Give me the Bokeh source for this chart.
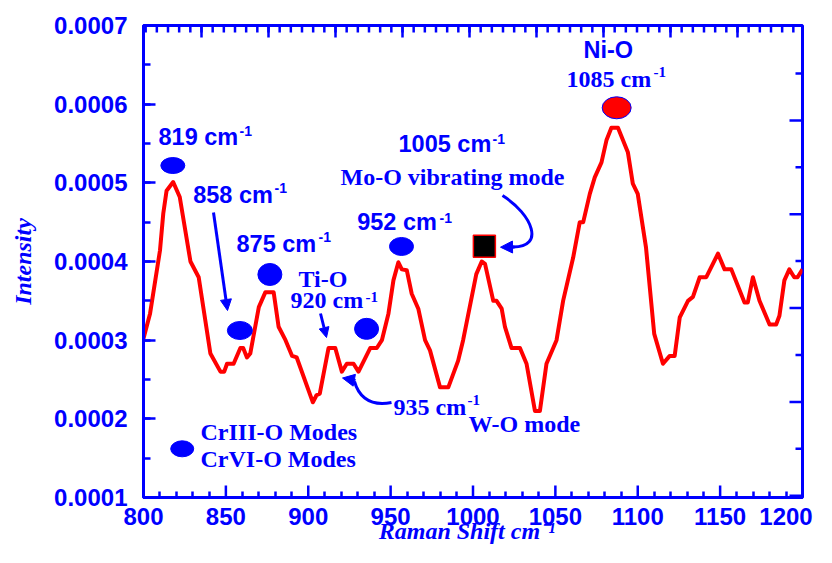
import numpy as np
from bokeh.plotting import figure
from bokeh.models import (Range1d, SingleIntervalTicker, FixedTicker,
                          PrintfTickFormatter, Label, Arrow, NormalHead)
from bokeh.embed import file_html
from bokeh.resources import INLINE

# ---------------- data ----------------
raman_shift = [800, 804, 810, 812, 814, 818, 822, 828.5, 833.5, 840.6, 846.7, 849, 850.7, 854.7,
               858.8, 860.5, 862.8, 864.8, 870, 874, 879, 882, 886.2, 890.2, 893, 902.8, 905, 907,
               912.3, 916.4, 920.4, 923.4, 927.5, 930.5, 937.6, 941.6, 944.7, 948.7, 951.7, 954.7,
               956.8, 959.8, 962.8, 966.8, 970.9, 973.9, 980, 985, 991, 994, 998, 1002, 1005.3,
               1007.3, 1012.3, 1014.3, 1017.4, 1019.4, 1023.4, 1028.5, 1032.5, 1037.6, 1040.6,
               1044.6, 1050.7, 1054.7, 1060.8, 1064.8, 1066.9, 1070.9, 1073.9, 1078, 1081, 1084,
               1088, 1094, 1097, 1100, 1105, 1110, 1115.3, 1119.4, 1122.4, 1125.5, 1130.5, 1133.5,
               1137.6, 1141.6, 1148.7, 1152.7, 1156.8, 1164.8, 1166.8, 1169.9, 1173.9, 1180, 1184,
               1186, 1189, 1192, 1195, 1197, 1200]
intensity = [0.000302, 0.000334, 0.000414, 0.000461, 0.00049, 0.000501, 0.000482, 0.0004, 0.00038,
             0.000283, 0.00026, 0.00026, 0.00027, 0.00027, 0.00029, 0.00029, 0.000278, 0.000283,
             0.000342, 0.000361, 0.000361, 0.000317, 0.0003, 0.00028, 0.000278, 0.000221, 0.00023,
             0.000232, 0.00029, 0.00029, 0.00026, 0.00027, 0.00027, 0.00026, 0.00029, 0.00029,
             0.0003, 0.000334, 0.000376, 0.000399, 0.00039, 0.000389, 0.000359, 0.00034, 0.0003,
             0.000287, 0.00024, 0.00024, 0.000274, 0.0003, 0.000342, 0.000384, 0.0004, 0.000397,
             0.00035, 0.00035, 0.00034, 0.000317, 0.00029, 0.00029, 0.00027, 0.00021, 0.00021,
             0.00027, 0.0003, 0.00035, 0.000405, 0.00045, 0.00045, 0.000486, 0.000507, 0.000526,
             0.000554, 0.00057, 0.00057, 0.000539, 0.000499, 0.000486, 0.000418, 0.000308, 0.00027,
             0.00028, 0.00028, 0.000329, 0.00035, 0.000355, 0.00038, 0.00038, 0.00041, 0.00039,
             0.00039, 0.000348, 0.000348, 0.00038, 0.00035, 0.00032, 0.00032, 0.000331, 0.000376,
             0.00039, 0.00038, 0.00038, 0.00039]

# peak markers
blue_mark_shift = [817.8, 858.5, 876.7, 935.4, 956.6, 823.5]
blue_mark_intensity = [0.000522, 0.0003123, 0.0003835, 0.0003144, 0.0004191, 0.0001619]
nio_mark_shift = [1087.2]
nio_mark_intensity = [0.0005954]
moo_mark_shift = [1006.9]
moo_mark_intensity = [0.0004193]

x_start, x_end, x_step = 800, 1200, 50
y_start, y_end, y_step = 0.0001, 0.0007, 0.0001
x_title = "Raman  Shift  cm\u207b\u00b9"
y_title = "Intensity"

BLUE = "#0000FF"
RED = "#FF0000"
SANS = "Liberation Sans"
SERIF = "Liberation Serif"

# pixel helpers (plot frame: x 143..802, y 25..497)
FL, FR, FT, FB = 143, 802, 25, 497
def X(px):
    return x_start + (px - FL) * (x_end - x_start) / (FR - FL)

def Y(py):
    return y_end - (py - FT) * (y_end - y_start) / (FB - FT)

DX = (x_end - x_start) / (FR - FL)   # data units per pixel
DY = (y_end - y_start) / (FB - FT)

W, H = 816, 547
p = figure(width=W, height=H, output_backend="svg", toolbar_location=None,
           x_range=Range1d(x_start, x_end), y_range=Range1d(y_start, y_end),
           min_border_left=FL, min_border_right=W - FR, min_border_top=FT, min_border_bottom=H - FB)
p.outline_line_color = BLUE
p.outline_line_width = 3
p.grid.visible = False
p.background_fill_color = "white"
p.border_fill_color = "white"

def style_axis(ax, major_in, minor_in):
    ax.axis_line_color = BLUE
    ax.axis_line_width = 3
    ax.major_tick_line_color = BLUE
    ax.minor_tick_line_color = BLUE
    ax.major_tick_line_width = 2.5
    ax.minor_tick_line_width = 2.5
    ax.major_tick_in = major_in
    ax.major_tick_out = 0
    ax.minor_tick_in = minor_in
    ax.minor_tick_out = 0
    ax.major_label_text_color = BLUE
    ax.major_label_text_font = SANS
    ax.major_label_text_font_style = "bold"
    ax.major_label_text_font_size = "24px"

n_x = int(round((x_end - x_start) / x_step))
major_x = [x_start + i * x_step for i in range(n_x + 1)]
minor_x = [x_start + i * x_step / 5 for i in range(1, 5 * n_x) if i % 5 != 0]
# the label of the last tick is moved slightly inwards so that it stays on the canvas
last_label_pos = 1190
xa = p.xaxis[0]
xa.ticker = FixedTicker(ticks=major_x[:-1] + [last_label_pos], minor_ticks=minor_x)
xa.major_label_overrides = {last_label_pos: str(major_x[-1])}
style_axis(xa, 12, 6)
xa.major_tick_line_color = None      # major tick marks drawn below as segments
xa.major_label_standoff = 10
xa.axis_label = x_title
xa.axis_label_text_font = SERIF
xa.axis_label_text_font_style = "bold italic"
xa.axis_label_text_font_size = "24px"
xa.axis_label_text_color = BLUE
xa.axis_label_standoff = -10

ya = p.yaxis[0]
ya.ticker = SingleIntervalTicker(interval=y_step, num_minor_ticks=2)
ya.formatter = PrintfTickFormatter(format="%.4f")
style_axis(ya, 12, 7)
ya.major_label_standoff = 16
ya.axis_label = y_title
ya.axis_label_text_font = SERIF
ya.axis_label_text_font_style = "bold italic"
ya.axis_label_text_font_size = "24px"
ya.axis_label_text_color = BLUE
ya.axis_label_standoff = 15

# bottom major tick marks
p.segment(x0=major_x, y0=[y_start] * len(major_x), x1=major_x,
          y1=[y_start + 12 * DY] * len(major_x), line_color=BLUE, line_width=2.5)

# mirrored top / right ticks (the reference uses its own spacing there)
top_major = [X(603 + 67 * k) for k in range(-6, 3)]
top_minor = [X(603 + 67 * k / 6.0) for k in range(-6 * 7 + 1, 6 * 3)]
top_minor = [t for t in top_minor if x_start < t < x_end]
p.segment(x0=top_major, y0=[y_end] * len(top_major), x1=top_major,
          y1=[y_end - 12 * DY] * len(top_major), line_color=BLUE, line_width=2.5)
p.segment(x0=top_minor, y0=[y_end] * len(top_minor), x1=top_minor,
          y1=[y_end - 7 * DY] * len(top_minor), line_color=BLUE, line_width=2.5)

right_major = [Y(120 + 93.8 * k) for k in range(0, 5)]
right_minor = [Y(73 + 93.8 * k) for k in range(0, 5)]
p.segment(x0=[x_end] * len(right_major), y0=right_major, x1=[x_end - 13 * DX] * len(right_major),
          y1=right_major, line_color=BLUE, line_width=2.5)
p.segment(x0=[x_end] * len(right_minor), y0=right_minor, x1=[x_end - 7 * DX] * len(right_minor),
          y1=right_minor, line_color=BLUE, line_width=2.5)

# ---------------- spectrum ----------------
p.line(raman_shift, intensity, line_color=RED, line_width=4, line_join="round")

# ---------------- markers ----------------
blue_w = [24, 25, 24, 24, 24, 23]
blue_h = [16, 18, 22, 21, 18, 16]
p.ellipse(x=blue_mark_shift, y=blue_mark_intensity, width=blue_w, height=blue_h,
          width_units="screen", height_units="screen", fill_color=BLUE, line_color=BLUE)
p.ellipse(x=nio_mark_shift, y=nio_mark_intensity, width=29, height=22,
          width_units="screen", height_units="screen", fill_color=RED, line_color=BLUE, line_width=1)
p.scatter(x=moo_mark_shift, y=moo_mark_intensity, marker="square", size=22,
          fill_color="black", line_color=RED, line_width=1.5)

# ---------------- arrows ----------------
def arrow(x0, y0, x1, y1, size=11):
    p.add_layout(Arrow(x_start=X(x0), y_start=Y(y0), x_end=X(x1), y_end=Y(y1),
                       line_color=BLUE, line_width=3,
                       end=NormalHead(size=size, fill_color=BLUE, line_color=BLUE, line_width=1)))

arrow(213, 212, 227, 310)
arrow(320, 313, 326, 337, size=10)
# curved arrow to 935 cm-1
p.bezier(x0=[X(391)], y0=[Y(402)], x1=[X(354)], y1=[Y(381)],
         cx0=[X(366)], cy0=[Y(407)], cx1=[X(357)], cy1=[Y(392)], line_color=BLUE, line_width=3)
arrow(355, 380, 342, 377.5, size=12)
# curved arrow to Mo-O square
p.bezier(x0=[X(502)], y0=[Y(195)], x1=[X(512)], y1=[Y(246.5)],
         cx0=[X(532)], cy0=[Y(214)], cx1=[X(545)], cy1=[Y(247)], line_color=BLUE, line_width=3)
arrow(514, 246.5, 500, 246.7, size=12)

# ---------------- texts ----------------
def label(px, py, text, font=SANS, size=23.5, style="bold"):
    p.add_layout(Label(x=X(px), y=Y(py - 0.35 * size), text=text, text_font=font,
                       text_font_size=f"{size}px", text_font_style=style, text_color=BLUE,
                       text_align="left", text_baseline="alphabetic"))

# sans-serif peak labels with superscript
for (lx, ly, t, sx, sy) in [(158, 145, "819 cm", 239, 135),
                            (192.7, 203, "858 cm", 274, 192),
                            (236, 251.7, "875 cm", 318, 241.7),
                            (356.7, 230, "952 cm", 439, 222),
                            (398, 152, "1005 cm", 492, 143)]:
    label(lx, ly, t)
    label(sx, sy, "-1", size=14)
label(583, 58, "Ni-O")

# serif labels
SZ = 24
label(298, 286.7, "Ti-O", font=SERIF, size=SZ)
label(290, 308, "920 cm", font=SERIF, size=SZ)
label(365, 302, "-1", font=SERIF, size=15)
label(340, 185, "Mo-O vibrating mode", font=SERIF, size=SZ)
label(566, 87, "1085 cm", font=SERIF, size=SZ)
label(653, 77, "-1", font=SERIF, size=15)
label(393, 415, "935 cm", font=SERIF, size=SZ)
label(467, 405, "-1", font=SERIF, size=15)
label(468, 432, "W-O mode", font=SERIF, size=SZ)
label(200, 440, "CrIII-O Modes", font=SERIF, size=SZ)
label(200, 466.7, "CrVI-O Modes", font=SERIF, size=SZ)

open("out.html", "w").write(file_html(p, INLINE))
